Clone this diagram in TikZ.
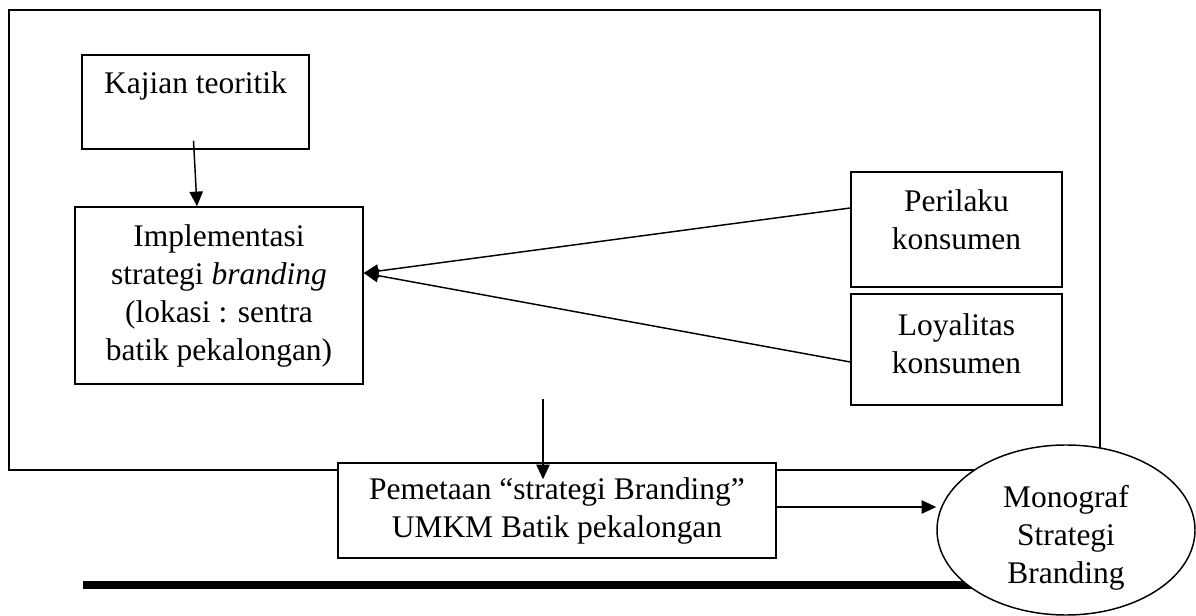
\documentclass[tikz,border=0pt]{standalone}
\usepackage{fontspec}
\setmainfont{Liberation Serif}
\usepackage{tikz}
\usetikzlibrary{calc,positioning,arrows.meta,shapes.geometric}

\tikzset{
  boxnode/.style={draw, fill=white, rectangle, inner sep=0pt, align=center, line width=1.1pt},
  arrowline/.style={line width=1.1pt, -{Triangle[length=11pt, width=10pt]}},
}

\begin{document}
\begin{tikzpicture}[x=0.75pt, y=-0.75pt,
    every node/.style={font=\fontsize{23.6}{28.5}\selectfont}]
  \useasboundingbox (0,0) rectangle (1196,616);

  % frame and base line
  \draw[line width=1.1pt] (9,10) rectangle (1100,470);
  \draw[line width=6pt] (83,585) -- (1010,585);

  \node[boxnode, minimum width=170.25pt, minimum height=70.5pt] (kajian) at (195.5,102)
    {Kajian teoritik\\\mbox{}};
  \node[boxnode, minimum width=216pt, minimum height=132.75pt] (impl) at (219,295.5)
    {Implementasi\\strategi \textit{branding}\\(lokasi : sentra\\batik pekalongan)};
  \node[boxnode, minimum width=158.25pt, minimum height=86.25pt] (perilaku) at (956.5,229.5)
    {Perilaku\\konsumen\\[-13.5pt]\mbox{}};
  \node[boxnode, minimum width=158.25pt, minimum height=83.25pt] (loyalitas) at (956.5,349.5)
    {Loyalitas\\konsumen\\[-19.5pt]\mbox{}};
  \node[boxnode, minimum width=328.5pt, minimum height=71.25pt] (pemetaan) at (557,510.5)
    {Pemetaan “strategi Branding”\\UMKM Batik pekalongan};
  \node[boxnode, ellipse, minimum width=193.5pt, minimum height=127.5pt] (monograf) at (1066,530)
    {\rule{0pt}{28pt}Monograf\\Strategi\\Branding};

  \coordinate (tip) at ($(impl.east)+(0,-22.5)$);
  \coordinate (hasil) at (543,399);

  \draw[arrowline] ($(kajian.south)+(-2,-9)$) -- ($(impl.north)+(-22,0)$);
  \draw[arrowline] ($(perilaku.west)+(0,-21.5)$) -- (tip);
  \draw[arrowline] ($(loyalitas.west)+(0,12.5)$) -- (tip);
  \draw[arrowline] (hasil) -- ($(hasil |- pemetaan.north)+(0,17)$);
  \draw[arrowline] ($(pemetaan.east)+(0,-3.5)$) -- ($(monograf.west)+(0,-23)$);

\end{tikzpicture}
\end{document}
